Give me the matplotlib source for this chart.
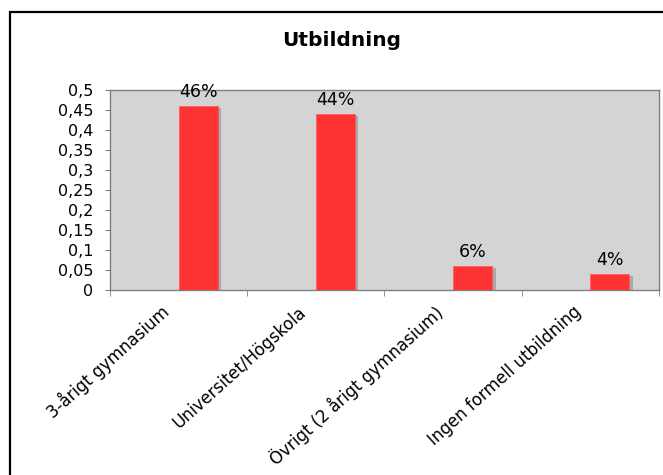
import matplotlib
matplotlib.use("Agg")
import matplotlib.pyplot as plt
from matplotlib.patches import Rectangle
from matplotlib.ticker import FuncFormatter
from matplotlib.transforms import ScaledTranslation
import numpy as np

# data
categories = ["3-årigt gymnasium", "Universitet/Högskola",
              "Övrigt (2 årigt gymnasium)", "Ingen formell utbildning"]
values = [0.46, 0.44, 0.06, 0.04]
labels = ["46%", "44%", "6%", "4%"]
yticks = [0, 0.05, 0.1, 0.15, 0.2, 0.25, 0.3, 0.35, 0.4, 0.45, 0.5]

W, H = 663, 475
fig = plt.figure(figsize=(W / 100, H / 100), dpi=100)

# outer chart frame (runs off the right/bottom edge)
fig.patches.append(Rectangle((10 / W, -0.05), 1.0, 1 - 12 / H + 0.05,
                             transform=fig.transFigure, fill=False,
                             edgecolor="black", linewidth=1.6))

ax = fig.add_axes([110 / W, 1 - 290 / H, (659 - 110) / W, (290 - 90) / H])
ax.set_facecolor("#d4d4d4")

x = np.arange(len(categories))
bw = 0.285
# drop shadow behind bars
ax.bar(x + 0.025, np.array(values) - 0.004, width=bw, align="edge",
       color="#a9a9a9", zorder=2)
ax.bar(x, values, width=bw, align="edge", color="#ff3333",
       edgecolor="#ff5555", linewidth=0.5, zorder=3)

for xi, v, lab in zip(x, values, labels):
    ax.text(xi + bw / 2, v + 0.022, lab, ha="center", va="baseline",
            fontsize=12.5, zorder=4)

ax.set_xlim(-0.5, len(categories) - 0.5)
ax.set_ylim(0, 0.5)
ax.set_yticks(yticks)
ax.yaxis.set_major_formatter(FuncFormatter(
    lambda v, p: ("%g" % round(v, 2)).replace(".", ",")))
ax.tick_params(axis="y", labelsize=11.5, length=3.6, color="#808080", pad=8.5)

# labels at category centers, tick marks on category boundaries
ax.set_xticks(x)
ax.set_xticklabels(categories, rotation=42, ha="right", va="center",
                   rotation_mode="anchor", fontsize=12)
ax.tick_params(axis="x", which="major", length=0, pad=14)
shift = ScaledTranslation(-12 / 100, 0, fig.dpi_scale_trans)
for t in ax.get_xticklabels():
    t.set_transform(t.get_transform() + shift)
ax.set_xticks(np.arange(-0.5, len(categories)), minor=True)
ax.tick_params(axis="x", which="minor", length=4, color="#808080")

for s in ax.spines.values():
    s.set_color("#808080")
    s.set_linewidth(1)

fig.text(342 / W, 1 - 40 / H, "Utbildning", ha="center", va="center",
         fontsize=14.5, fontweight="bold")

fig.savefig("out.png", dpi=100)
